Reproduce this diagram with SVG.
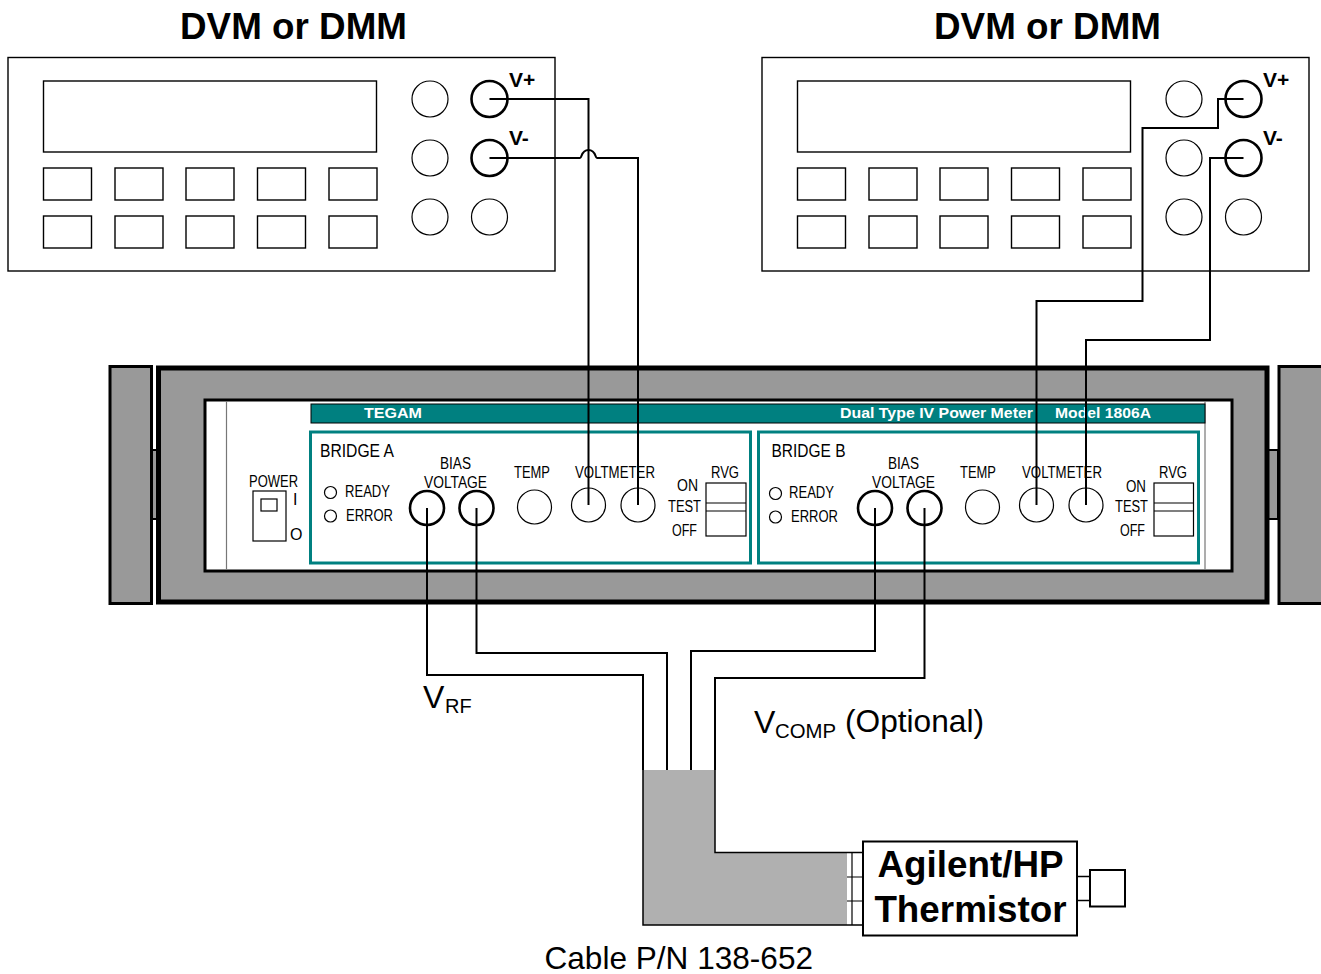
<svg xmlns="http://www.w3.org/2000/svg" width="1321" height="974" viewBox="0 0 1321 974">
<style>
text{font-family:"Liberation Sans",Arial,sans-serif;fill:#000}
.t{font-weight:bold;font-size:36.8px}
.p{font-weight:bold;font-size:21px}
.l{font-size:16px}
.h{font-size:18px}
.w{font-weight:bold;font-size:15px;fill:#fff}
.g{font-size:32px}
.s{font-size:20px}
.b{fill:#fff;stroke:#000;stroke-width:1.4}
.c{fill:#fff;stroke:#000;stroke-width:1.2}
.k{fill:#fff;stroke:#000;stroke-width:2.6}
.br{fill:#fff;stroke:#008080;stroke-width:3}
.wire{fill:none;stroke:#000;stroke-width:2}
</style>
<defs>
<g id="dmm">
<rect class="b" x="8" y="57.5" width="547" height="213.5" stroke-width="1.8"/>
<rect class="b" x="43.5" y="81" width="333" height="71"/>
<rect class="b" x="43.5" y="168" width="48" height="32"/><rect class="b" x="115" y="168" width="48" height="32"/><rect class="b" x="186" y="168" width="48" height="32"/><rect class="b" x="257.500" y="168" width="48" height="32"/><rect class="b" x="329" y="168" width="48" height="32"/>
<rect class="b" x="43.5" y="216" width="48" height="32"/><rect class="b" x="115" y="216" width="48" height="32"/><rect class="b" x="186" y="216" width="48" height="32"/><rect class="b" x="257.500" y="216" width="48" height="32"/><rect class="b" x="329" y="216" width="48" height="32"/>
<circle class="c" cx="430" cy="99" r="18"/><circle class="c" cx="430" cy="158" r="18"/><circle class="c" cx="430" cy="217" r="18"/><circle class="c" cx="489.500" cy="217" r="18"/>
<circle class="k" cx="489.500" cy="99" r="18"/><circle class="k" cx="489.500" cy="158" r="18"/>
</g>
</defs>
<g id="dmm-left">
<use href="#dmm"/>
<text class="t" x="180" y="39" textLength="227" lengthAdjust="spacingAndGlyphs">DVM or DMM</text>
<text class="p" x="509" y="87">V+</text><text class="p" x="509" y="145">V-</text>
</g>
<g id="dmm-right">
<use href="#dmm" x="754"/>
<text class="t" x="934" y="39" textLength="227" lengthAdjust="spacingAndGlyphs">DVM or DMM</text>
<text class="p" x="1263" y="87">V+</text><text class="p" x="1263" y="145">V-</text>
</g>
<g id="power-meter">
<rect x="110" y="366.500" width="41.500" height="237" fill="#999" stroke="#000" stroke-width="3"/>
<rect x="1279" y="366.500" width="45" height="237" fill="#999" stroke="#000" stroke-width="3"/>
<rect x="152" y="450" width="6" height="69" fill="#999" stroke="#000" stroke-width="2"/>
<rect x="1268" y="450" width="10" height="69" fill="#999" stroke="#000" stroke-width="2"/>
<rect x="158.500" y="368" width="1108.500" height="234" fill="#999" stroke="#000" stroke-width="5"/>
<rect x="205" y="400" width="1027" height="171" fill="#fff" stroke="#000" stroke-width="3"/>
<path d="M226.500 401.500V569.500M1205 401.500V569.500" stroke="#777" stroke-width="1.2"/>
<rect x="311" y="404" width="894" height="19" fill="#008080" stroke="#000" stroke-width="1"/>
<text class="w" x="364" y="417.500" textLength="58" lengthAdjust="spacingAndGlyphs">TEGAM</text>
<text class="w" x="840" y="417.500" textLength="193" lengthAdjust="spacingAndGlyphs">Dual Type IV Power Meter</text>
<text class="w" x="1055" y="417.500" textLength="96" lengthAdjust="spacingAndGlyphs">Model 1806A</text>
<text class="l" x="249" y="487" textLength="49" lengthAdjust="spacingAndGlyphs">POWER</text>
<rect class="c" x="253" y="491" width="33" height="50"/>
<rect class="c" x="261" y="499" width="16" height="12"/>
<text class="l" x="293" y="505">I</text>
<text class="l" x="290" y="540">O</text>
</g>
<g id="bridge-a">
<rect class="br" x="310.500" y="432" width="440" height="131"/>
<text class="h" x="320" y="456.500" textLength="74" lengthAdjust="spacingAndGlyphs">BRIDGE A</text>
<circle class="c" cx="330.500" cy="492.500" r="6"/><circle class="c" cx="330.500" cy="516" r="6"/>
<text class="l" x="345" y="497" textLength="45" lengthAdjust="spacingAndGlyphs">READY</text>
<text class="l" x="346" y="521" textLength="47" lengthAdjust="spacingAndGlyphs">ERROR</text>
<text class="l" x="440" y="469" textLength="31" lengthAdjust="spacingAndGlyphs">BIAS</text>
<text class="l" x="424" y="488" textLength="63" lengthAdjust="spacingAndGlyphs">VOLTAGE</text>
<text class="l" x="514" y="478" textLength="36" lengthAdjust="spacingAndGlyphs">TEMP</text>
<text class="l" x="575" y="478" textLength="80" lengthAdjust="spacingAndGlyphs">VOLTMETER</text>
<text class="l" x="711" y="478" textLength="28" lengthAdjust="spacingAndGlyphs">RVG</text>
<text class="l" x="677" y="491" textLength="21" lengthAdjust="spacingAndGlyphs">ON</text>
<text class="l" x="668" y="512" textLength="33" lengthAdjust="spacingAndGlyphs">TEST</text>
<text class="l" x="672" y="536" textLength="25" lengthAdjust="spacingAndGlyphs">OFF</text>
<circle class="k" cx="427" cy="508" r="17"/><circle class="k" cx="476.500" cy="508" r="17"/>
<circle class="c" cx="534.500" cy="507" r="17"/><circle class="c" cx="588.500" cy="505" r="17"/><circle class="c" cx="638" cy="505" r="17"/>
<rect class="c" x="706" y="483" width="40" height="53"/><path d="M706 503H746M706 511H746" stroke="#000" stroke-width="1.200"/>
</g>
<g id="bridge-b">
<rect class="br" x="758.500" y="432" width="440" height="131"/>
<text class="h" x="771.500" y="456.500" textLength="74" lengthAdjust="spacingAndGlyphs">BRIDGE B</text>
<circle class="c" cx="775.500" cy="493.500" r="6"/><circle class="c" cx="775.500" cy="517" r="6"/>
<text class="l" x="789" y="498" textLength="45" lengthAdjust="spacingAndGlyphs">READY</text>
<text class="l" x="791" y="522" textLength="47" lengthAdjust="spacingAndGlyphs">ERROR</text>
<text class="l" x="888" y="469" textLength="31" lengthAdjust="spacingAndGlyphs">BIAS</text>
<text class="l" x="872" y="488" textLength="63" lengthAdjust="spacingAndGlyphs">VOLTAGE</text>
<text class="l" x="960" y="478" textLength="36" lengthAdjust="spacingAndGlyphs">TEMP</text>
<text class="l" x="1022" y="478" textLength="80" lengthAdjust="spacingAndGlyphs">VOLTMETER</text>
<text class="l" x="1159" y="478" textLength="28" lengthAdjust="spacingAndGlyphs">RVG</text>
<text class="l" x="1126" y="492" textLength="20" lengthAdjust="spacingAndGlyphs">ON</text>
<text class="l" x="1115" y="512" textLength="33" lengthAdjust="spacingAndGlyphs">TEST</text>
<text class="l" x="1120" y="536" textLength="25" lengthAdjust="spacingAndGlyphs">OFF</text>
<circle class="k" cx="875" cy="508" r="17"/><circle class="k" cx="924.500" cy="508" r="17"/>
<circle class="c" cx="982.500" cy="507" r="17"/><circle class="c" cx="1036.500" cy="505" r="17"/><circle class="c" cx="1086" cy="505" r="17"/>
<rect class="c" x="1154" y="483" width="39.500" height="53"/><path d="M1154 503H1193.500M1154 511H1193.500" stroke="#000" stroke-width="1.200"/>
</g>
<g id="connectors">
<path class="wire" d="M489.500 99H588.500V505"/>
<path class="wire" d="M489.500 158H580C582 158 581 150 588.500 150C596 150 595 158 597 158H638V505"/>
<path class="wire" d="M1243.500 99H1218V128H1142.500V301H1036.500V505"/>
<path class="wire" d="M1243.500 158H1210V340H1086V505"/>
<path class="wire" d="M427 508V675H643V770"/>
<path class="wire" d="M476.500 508V653H667V770"/>
<path class="wire" d="M875 508V651H691V770"/>
<path class="wire" d="M924.500 508V678H715V770"/>
</g>
<g id="cable">
<path d="M643 770H715V852H847V925H643Z" fill="#b0b0b0"/>
<path d="M715 770V852.500H863M643 770V925H863" fill="none" stroke="#000" stroke-width="1.500"/>
<path d="M847 877H863M847 901H863" stroke="#000" stroke-width="1.200"/>
<path d="M852 853V925" stroke="#000" stroke-width="1.200"/>
<text class="g" x="544.500" y="968.500" textLength="268.500" lengthAdjust="spacingAndGlyphs">Cable P/N 138-652</text>
</g>
<g id="thermistor">
<rect x="863" y="841.500" width="214" height="94" fill="#fff" stroke="#000" stroke-width="2"/>
<text font-weight="bold" font-size="36.800" x="970.500" y="876.500" text-anchor="middle">Agilent/HP</text>
<text font-weight="bold" font-size="36.800" x="970.500" y="921.500" text-anchor="middle">Thermistor</text>
<path d="M1077 876.500H1090M1077 900.500H1090" stroke="#000" stroke-width="1.500"/>
<rect x="1090" y="870" width="35" height="36.500" fill="#fff" stroke="#000" stroke-width="2"/>
</g>
<g id="labels">
<text class="g" x="423" y="707.500">V</text><text class="s" x="445" y="712.500">RF</text>
<text class="g" x="754" y="732.500">V</text><text class="s" x="775" y="737.500" textLength="61" lengthAdjust="spacingAndGlyphs">COMP</text><text class="g" x="845" y="732" textLength="139" lengthAdjust="spacingAndGlyphs">(Optional)</text>
</g>
</svg>
